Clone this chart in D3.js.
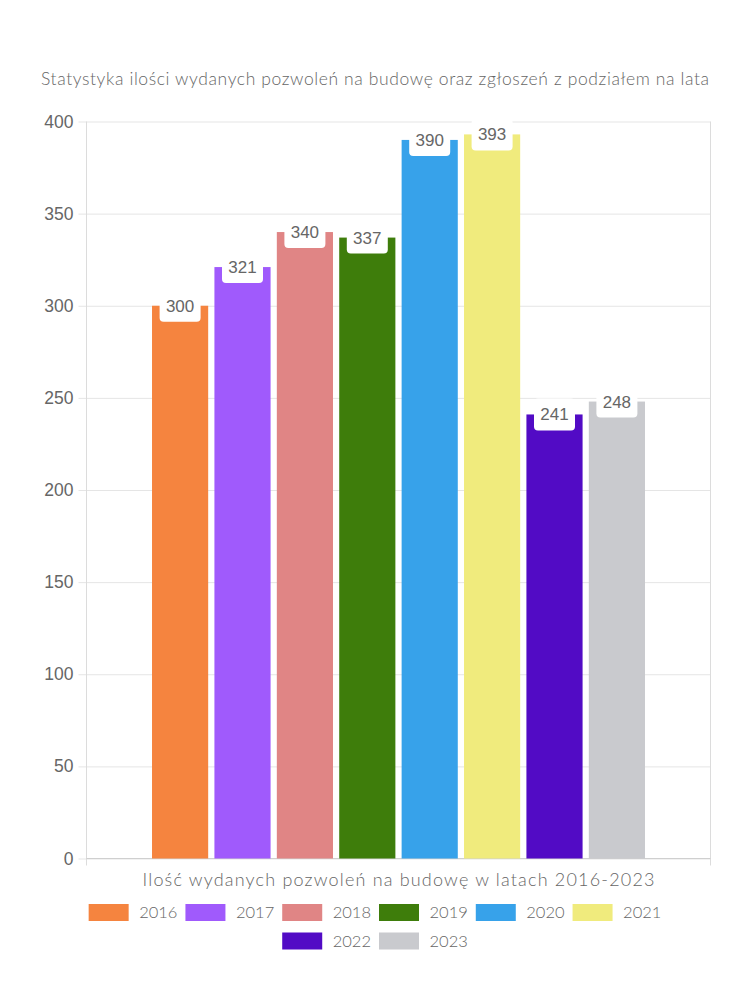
<!DOCTYPE html>
<html>
<head>
<meta charset="utf-8">
<script src="https://cdn.jsdelivr.net/npm/d3@7"></script>
<style>
  html, body { margin: 0; padding: 0; background: #fff; }
  svg { display: block; }
</style>
</head>
<body>
<svg id="chart" width="750" height="1000"></svg>
<script>
const years = ["2016", "2017", "2018", "2019", "2020", "2021", "2022", "2023"];
const values = [300, 321, 340, 337, 390, 393, 241, 248];
const colors = ["#F5843F", "#A05AFC", "#E08585", "#3E7D0B", "#37A2EA", "#F0EB7D", "#520BC5", "#C9CACE"];
const yTicks = [0, 50, 100, 150, 200, 250, 300, 350, 400];
const title = "Statystyka ilości wydanych pozwoleń na budowę oraz zgłoszeń z podziałem na lata";
const xTitle = "Ilość wydanych pozwoleń na budowę w latach 2016-2023";

(function () {
const svg = d3.select("#chart");
const pLeft = 86.5, pRight = 710.5, pTop = 121.5, pBottom = 858.5;
const roundFont = "Lato, 'Noto Sans', sans-serif";
const numFont = "'Liberation Sans', Arial, sans-serif";

const y = d3.scaleLinear().domain([0, 400]).range([pBottom, pTop]);
const cat = d3.scaleBand().domain(["all"]).range([pLeft, pRight]).paddingInner(0).paddingOuter(0.125);
const x = d3.scaleBand().domain(years).range([cat("all"), cat("all") + cat.bandwidth()]).paddingInner(0.1).paddingOuter(0.05);

svg.append("text")
  .attr("x", 375).attr("y", 85)
  .attr("text-anchor", "middle")
  .attr("font-family", roundFont).attr("font-size", 17.5).attr("font-weight", 300)
  .attr("fill", "#666")
  .attr("textLength", 668).attr("lengthAdjust", "spacing")
  .text(title);

const yAxis = d3.axisLeft(y).tickValues(yTicks).tickSize(8).tickPadding(5).tickFormat(d3.format("d"));
const gy = svg.append("g").attr("transform", `translate(${pLeft},0)`).call(yAxis);
gy.select(".domain").remove();
gy.selectAll(".tick line").attr("stroke", "#e5e5e5").attr("x2", pRight - pLeft).attr("x1", -8);
gy.selectAll(".tick text").attr("font-family", numFont).attr("font-size", 17.5).attr("fill", "#666");

[pLeft, pRight].forEach(xx => {
  svg.append("line").attr("x1", xx).attr("x2", xx).attr("y1", pTop).attr("y2", pBottom + 7)
    .attr("stroke", "#dcdcdc");
});
svg.append("line").attr("x1", pLeft).attr("x2", pRight).attr("y1", pBottom).attr("y2", pBottom).attr("stroke", "#cfcfcf");

svg.append("g").selectAll("rect").data(years).join("rect")
  .attr("x", d => x(d))
  .attr("width", x.bandwidth())
  .attr("y", (d, i) => y(values[i]))
  .attr("height", (d, i) => y(0) - y(values[i]))
  .attr("fill", (d, i) => colors[i]);

const lab = svg.append("g").selectAll("g").data(years).join("g")
  .attr("transform", (d, i) => `translate(${x(d) + x.bandwidth() / 2},${y(values[i])})`);
lab.append("rect")
  .attr("x", -20.5).attr("y", -16).attr("width", 41).attr("height", 32)
  .attr("rx", 4).attr("fill", "#fff");
lab.append("text")
  .attr("text-anchor", "middle").attr("dy", "0.35em")
  .attr("font-family", numFont).attr("font-size", 17)
  .attr("fill", "#666")
  .text((d, i) => values[i]);

svg.append("text")
  .attr("x", (pLeft + pRight) / 2).attr("y", 886)
  .attr("text-anchor", "middle")
  .attr("font-family", roundFont).attr("font-size", 18).attr("font-weight", 300)
  .attr("fill", "#666")
  .attr("textLength", 512).attr("lengthAdjust", "spacing")
  .text(xTitle);

const rows = [years.slice(0, 6), years.slice(6)];
const boxW = 40, boxH = 17, gapT = 10.5, itemPad = 8;
rows.forEach((row, r) => {
  const cy = 912.5 + r * 28.5;
  const g = svg.append("g");
  const items = row.map(yr => {
    const t = g.append("text").attr("font-family", roundFont).attr("font-size", 16.5).attr("font-weight", 300)
      .attr("fill", "#666").attr("dy", "0.35em").text(yr);
    return { yr, t, w: t.node().getComputedTextLength() };
  });
  const total = d3.sum(items, it => boxW + gapT + it.w) + itemPad * (items.length - 1);
  let cx = 375 - total / 2;
  items.forEach(it => {
    const i = years.indexOf(it.yr);
    g.append("rect").attr("x", cx).attr("y", cy - boxH / 2).attr("width", boxW).attr("height", boxH)
      .attr("fill", colors[i]);
    it.t.attr("x", cx + boxW + gapT).attr("y", cy);
    cx += boxW + gapT + it.w + itemPad;
  });
});
})();
</script>
</body>
</html>
